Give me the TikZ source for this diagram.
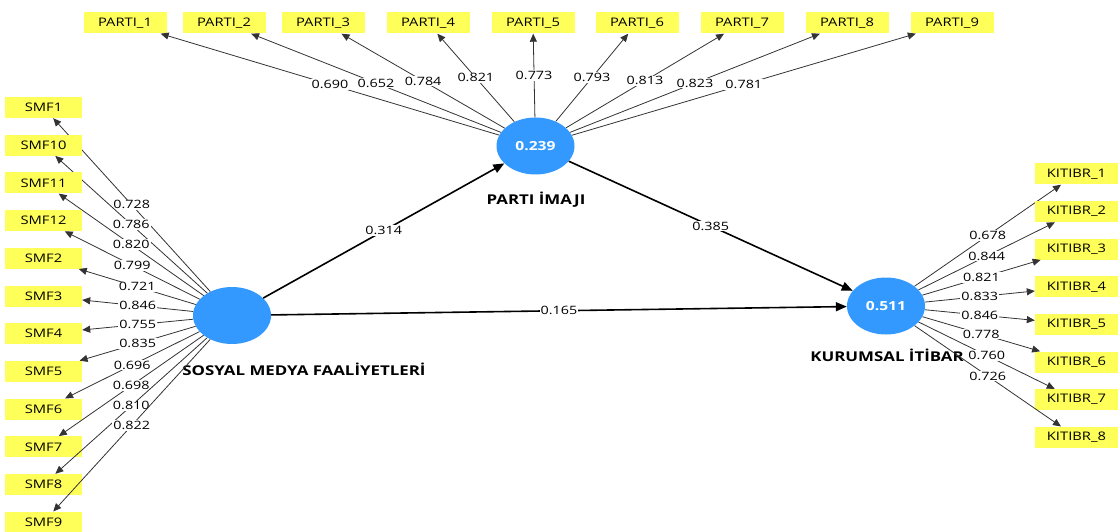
\documentclass[tikz,border=0pt]{standalone}
\usepackage{fontspec}
\setmainfont{Open Sans}[FakeStretch=1.25]
\usetikzlibrary{arrows.meta,shapes.geometric}
\definecolor{lvblue}{RGB}{51,153,255}
\definecolor{mvyellow}{RGB}{255,255,90}
\begin{document}
\begin{tikzpicture}[x=1pt,y=-1pt,
  ind/.style={fill=mvyellow, minimum width=83pt, minimum height=21pt, inner sep=0pt, font=\fontsize{11.8}{13}\selectfont},
  lv/.style={ellipse, fill=lvblue, minimum width=78pt, minimum height=57pt, inner sep=0pt, text=white, font=\fontsize{12.5}{14}\selectfont\bfseries},
  lvname/.style={font=\fontsize{13.5}{15}\selectfont\bfseries},
  load/.style={draw=black!80, line width=0.8pt, -{Triangle[length=8pt,width=7pt]}},
  strpath/.style={draw=black, line width=1.6pt, -{Triangle[length=11pt,width=9pt]}},
  lab/.style={fill=white, inner sep=1pt, font=\fontsize{11.5}{13}\selectfont}
]
\useasboundingbox (0,0) rectangle (1120,532);

% latent variables
\node[lv] (smf) at (232,315.5) {};
\node[lv] (pi) at (535.5,146) {0.239};
\node[lv] (ki) at (886,306) {0.511};

\node[lvname] (smfname) at (304,369) {SOSYAL MEDYA FAALİYETLERİ};
\node[lvname] (piname) at (536,200) {PARTI İMAJI};
\node[lvname] (kiname) at (887,355) {KURUMSAL İTİBAR};

% PARTI indicators
\foreach \i/\x/\v in {1/125/0.690, 2/224/0.652, 3/323/0.784, 4/428/0.821, 5/533/0.773, 6/637/0.793, 7/742/0.813, 8/847/0.823, 9/952/0.781} {
  \node[ind] (p\i) at (\x,23) {PARTI\_\i};
  \draw[load] (pi) -- node[lab] {\v} (p\i);
}

% SMF indicators
\foreach \k/\n/\v in {0/1/0.728, 1/10/0.786, 2/11/0.820, 3/12/0.799, 4/2/0.721, 5/3/0.846, 6/4/0.755, 7/5/0.835, 8/6/0.696, 9/7/0.698, 10/8/0.810, 11/9/0.822} {
  \node[ind, minimum width=77pt] (s\n) at (43.5,107.5+37.7*\k) {SMF\n};
  \draw[load] (smf) -- node[lab] {\v} (s\n);
}

% KITIBR indicators
\foreach \k/\n/\v in {0/1/0.678, 1/2/0.844, 2/3/0.821, 3/4/0.833, 4/5/0.846, 5/6/0.778, 6/7/0.760, 7/8/0.726} {
  \node[ind] (k\n) at (1076.5,174+37.6*\k) {KITIBR\_\n};
  \draw[load] (ki) -- node[lab] {\v} (k\n);
}

% structural paths
\draw[strpath] (smf) -- node[lab] {0.314} (pi);
\draw[strpath] (pi) -- node[lab] {0.385} (ki);
\draw[strpath] (smf) -- node[lab] {0.165} (ki);
\end{tikzpicture}
\end{document}
